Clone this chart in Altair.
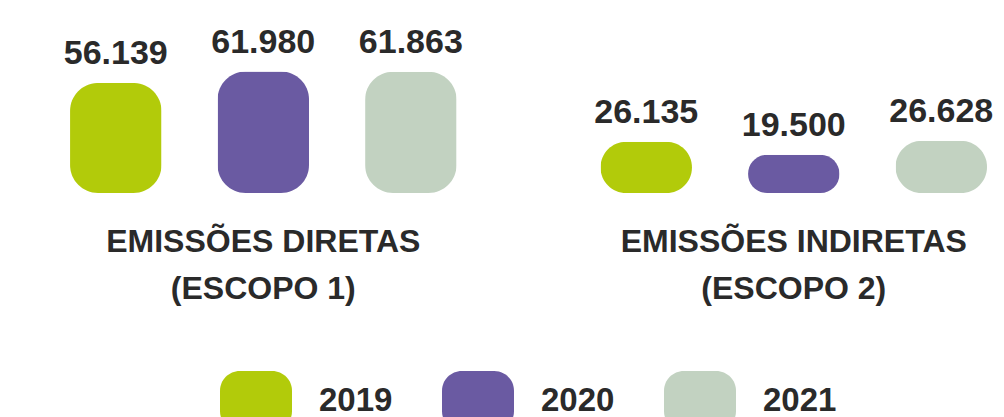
import altair as alt
import pandas as pd

groups = ["EMISSÕES DIRETAS (ESCOPO 1)", "EMISSÕES INDIRETAS (ESCOPO 2)"]
years = ["2019", "2020", "2021"]
direct = [56139, 61980, 61863]
indirect = [26135, 19500, 26628]
colors = ["#b2cb0a", "#6a5aa2", "#c2d2c1"]

rows = []
for g, vals in zip(groups, [direct, indirect]):
    for yr, v in zip(years, vals):
        rows.append({"group": g, "year": yr, "value": v})
df = pd.DataFrame(rows)

FONT = "Liberation Sans"
TEXT = "#2a2a2a"
PILL = ("M -0.45 -0.833 L 0.45 -0.833 A 0.55 0.55 0 0 1 1 -0.283 L 1 0.283 "
        "A 0.55 0.55 0 0 1 0.45 0.833 L -0.45 0.833 A 0.55 0.55 0 0 1 -1 0.283 "
        "L -1 -0.283 A 0.55 0.55 0 0 1 -0.45 -0.833 Z")

label_expr = ("[slice(datum.label, 0, indexof(datum.label, ' (')), "
              "slice(datum.label, indexof(datum.label, ' (') + 1)]")

x = alt.X(
    "group:N", sort=groups,
    scale=alt.Scale(paddingInner=0.2714, paddingOuter=0.066, align=0.886),
    axis=alt.Axis(title=None, domain=False, ticks=False, grid=False,
                  labelFont=FONT, labelFontSize=32, labelFontWeight="bold",
                  labelColor=TEXT, labelLimit=0, labelPadding=33,
                  labelLineHeight=47, labelAngle=0, labelExpr=label_expr),
)
xo = alt.XOffset("year:N", sort=years,
                 scale=alt.Scale(paddingInner=0.38, paddingOuter=0))
y = alt.Y("value:Q", scale=alt.Scale(domain=[0, 94400]), axis=None)

color = alt.Color(
    "year:N", sort=years,
    scale=alt.Scale(domain=years, range=colors),
    legend=alt.Legend(title=None, orient="none", legendX=212, legendY=357,
                      direction="horizontal", columns=3, symbolType=PILL,
                      symbolSize=5184, symbolStrokeWidth=0, symbolOpacity=1,
                      labelFont=FONT, labelFontSize=33, labelFontWeight="bold",
                      labelColor=TEXT, labelOffset=27, columnPadding=49,
                      padding=0),
)

base = alt.Chart(df).transform_calculate(
    label="replace(format(datum.value, ',d'), ',', '.')"
)

bars = base.mark_bar(cornerRadius=28).encode(x=x, xOffset=xo, y=y, color=color)
texts = base.mark_text(dy=-19, baseline="alphabetic", font=FONT, fontSize=34,
                       fontWeight="bold", color=TEXT).encode(
    x=x, xOffset=xo, y=y, text="label:N")

chart = alt.layer(bars, texts).properties(
    width=987, height=185,
    autosize=alt.AutoSizeParams(type="none"),
    padding={"left": 0, "top": 0, "right": 0, "bottom": 224},
).configure_view(stroke="transparent")

chart.save("out.html", embed_options={"renderer": "svg", "actions": False})
